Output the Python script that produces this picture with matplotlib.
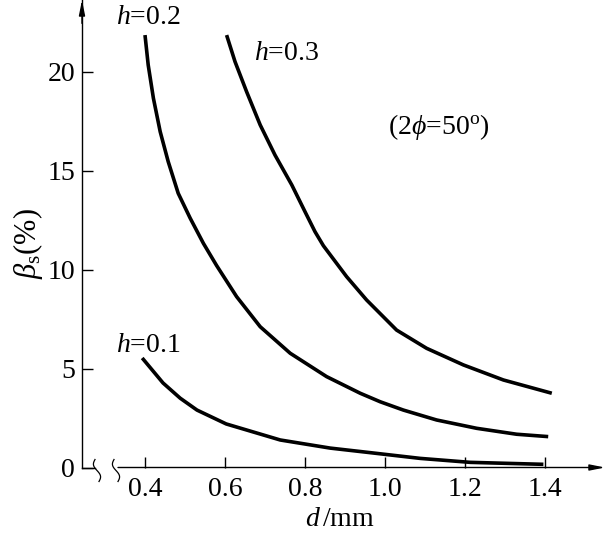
"""
Beta_s versus wire diameter d for three values of h (2phi = 50 deg).
"""

import numpy as np
import matplotlib
matplotlib.use('Agg')
import matplotlib.pyplot as plt

plt.rcParams['font.family'] = ['Liberation Serif', 'DejaVu Serif']
plt.rcParams['mathtext.fontset'] = 'custom'
plt.rcParams['mathtext.rm'] = 'Liberation Serif'
plt.rcParams['mathtext.it'] = 'Liberation Serif:italic'

# data
d_h01 = [0.393, 0.445, 0.488, 0.53, 0.603, 0.738, 0.863, 0.963, 1.088, 1.213, 1.396]
b_h01 = [5.53, 4.27, 3.50, 2.90, 2.20, 1.39, 0.98, 0.75, 0.46, 0.26, 0.16]

d_h02 = [0.400, 0.408, 0.421, 0.438, 0.458, 0.483, 0.513, 0.546, 0.579, 0.629,
         0.688, 0.763, 0.854, 0.938, 0.988, 1.046, 1.129, 1.229, 1.329, 1.408]
b_h02 = [21.84, 20.33, 18.65, 16.96, 15.45, 13.85, 12.59, 11.32, 10.20, 8.63,
         7.11, 5.77, 4.59, 3.75, 3.32, 2.90, 2.40, 1.98, 1.68, 1.56]

d_h03 = [0.604, 0.625, 0.654, 0.688, 0.725, 0.767, 0.800, 0.825, 0.846, 0.904,
         0.954, 1.029, 1.104, 1.196, 1.296, 1.417]
b_h03 = [21.84, 20.50, 18.98, 17.30, 15.78, 14.27, 12.92, 11.91, 11.20, 9.64,
         8.46, 6.94, 6.02, 5.18, 4.42, 3.75]

x_ticks = [0.4, 0.6, 0.8, 1.0, 1.2, 1.4]
x_ticklabels = ['0.4', '0.6', '0.8', '1.0', '1.2', '1.4']
y_ticks = [0, 5, 10, 15, 20]

W, H = 607, 539
fig = plt.figure(figsize=(W / 100, H / 100), dpi=100)
# axes: y axis at x=82 px, x axis at y=467 px
ax_w = 605 - 82
ax = fig.add_axes([82 / W, (H - 467.5) / H, ax_w / W, 467.5 / H])

x0 = 0.4 - 63 / 400
ax.set_xlim(x0, 0.4 + 460 / 400)
ax.set_ylim(0, 467.5 / 19.8)

lw = 2.6
for d, b in [(d_h01, b_h01), (d_h02, b_h02), (d_h03, b_h03)]:
    ax.plot(d, b, color='black', lw=lw, solid_capstyle='butt',
            solid_joinstyle='round')

# spines
for s in ['top', 'right', 'bottom']:
    ax.spines[s].set_visible(False)
ax.spines['left'].set_linewidth(1.0)

ax.set_xticks(x_ticks)
ax.set_xticklabels(x_ticklabels)
ax.set_yticks(y_ticks)
ax.tick_params(axis='both', direction='in', length=8, width=1.0,
               labelsize=20, color='black')
ax.tick_params(axis='x', pad=7)
ax.tick_params(axis='y', pad=5)

# broken x axis line with arrow
arrow = dict(arrowstyle='-|>,head_length=0.9,head_width=0.18',
             color='black', lw=1.0, shrinkA=0, shrinkB=0)
ax.plot([0, 13 / ax_w], [0, 0], color='black', lw=1.0,
        transform=ax.transAxes, clip_on=False)
ax.annotate('', xy=(1.0, 0), xytext=(36 / ax_w, 0), xycoords='axes fraction',
            arrowprops=arrow)
ax.annotate('', xy=(0, 1.0), xytext=(0, 0.95), xycoords='axes fraction',
            arrowprops=arrow)

# squiggle break marks
t = np.linspace(-1, 1, 40)
px = 1 / 400.0
for cx in [97, 116]:
    xs = x0 + (cx - 82 + 2.5 * np.sin(np.pi * t) + 2 * t) * px
    ys = (-3 - 11 * t) / 19.8
    ax.plot(xs, ys, color='black', lw=0.9, clip_on=False)


# curve labels
def ptext(x, y, s, **kw):
    fig.text(x / W, 1 - y / H, s, fontsize=20, va='center', **kw)


ptext(116, 17, r'$h$=0.2')
ptext(254, 53, r'$h$=0.3')
ptext(116, 345, r'$h$=0.1')
ptext(388, 127, r'(2$\phi$=50$^{\rm o}$)')

fig.text(340 / W, 1 - 520 / H, r'$d\,/$mm', fontsize=20, ha='center', va='center')
fig.text(28 / W, 1 - 243 / H, r'$\beta_{\rm s}$(%)', fontsize=22, ha='center',
         va='center', rotation=90)

plt.savefig('out.png', dpi=100)
plt.close()
